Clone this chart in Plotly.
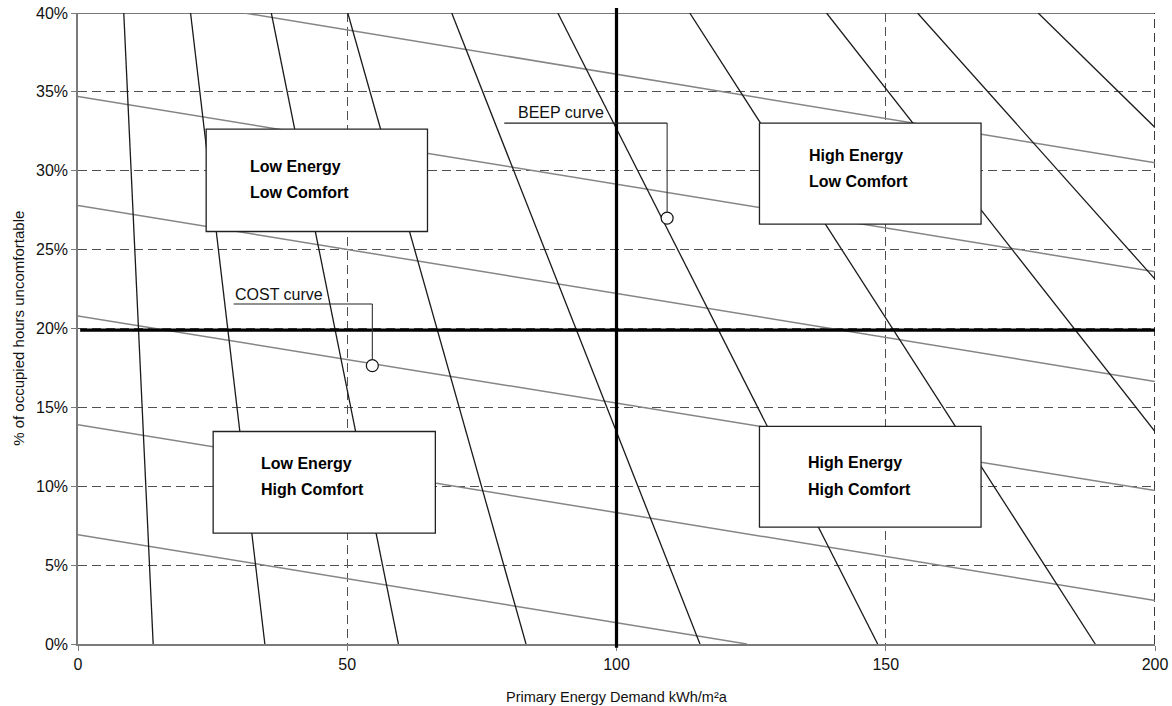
import plotly.graph_objects as go

# ---- data ----
# COST curves (grey, gentle slope): start/end points
cost_x0 = [0, 0, 0, 0, 0, 30.9]
cost_y0 = [6.93, 13.9, 20.8, 27.8, 34.7, 40.0]
cost_x1 = [124.2, 200, 200, 200, 200, 200]
cost_y1 = [0.0, 2.76, 9.73, 16.64, 23.6, 30.5]

# BEEP curves (dark, steep): start/end points
beep_x0 = [8.5, 20.9, 35.9, 50.1, 69.4, 89.1, 113.6, 139.0, 155.9, 178.3]
beep_y0 = [40, 40, 40, 40, 40, 40, 40, 40, 40, 40]
beep_x1 = [13.96, 34.7, 59.5, 83.2, 115.5, 148.5, 188.9, 200, 200, 200]
beep_y1 = [0, 0, 0, 0, 0, 0, 0, 13.47, 23.13, 32.74]

# thresholds (thick black lines)
energy_threshold = 100
comfort_threshold = 19.9

# callout points
callout_names = ["BEEP curve", "COST curve"]
callout_pt_x = [109.4, 54.66]
callout_pt_y = [27.0, 17.65]
callout_elbow_x = [79.16, 28.9]
callout_elbow_y = [33.02, 21.55]
callout_text_x = [81.5, 29.05]
callout_text_y = [33.67, 22.14]

# quadrant boxes
box_x0 = [23.8, 126.55, 25.1, 126.55]
box_x1 = [64.9, 167.7, 66.36, 167.7]
box_y0 = [26.15, 26.62, 7.03, 7.41]
box_y1 = [32.64, 33.02, 13.47, 13.79]
box_line1 = ["Low Energy", "High Energy", "Low Energy", "High Energy"]
box_line2 = ["Low Comfort", "Low Comfort", "High Comfort", "High Comfort"]
box_text_x = [31.7, 135.65, 33.74, 135.46]
box_text_y1 = [30.25, 30.99, 11.47, 11.49]
box_text_y2 = [28.65, 29.3, 9.82, 9.8]

x_ticks = [0, 50, 100, 150, 200]
y_ticks = [0, 5, 10, 15, 20, 25, 30, 35, 40]

SANS = "Liberation Sans, Arial, sans-serif"

fig = go.Figure()

for i in range(len(cost_x0)):
    fig.add_trace(go.Scatter(x=[cost_x0[i], cost_x1[i]], y=[cost_y0[i], cost_y1[i]],
                             mode="lines", line=dict(color="#858585", width=1.5),
                             hoverinfo="skip", showlegend=False))
for i in range(len(beep_x0)):
    fig.add_trace(go.Scatter(x=[beep_x0[i], beep_x1[i]], y=[beep_y0[i], beep_y1[i]],
                             mode="lines", line=dict(color="#1a1a1a", width=1.3),
                             hoverinfo="skip", showlegend=False))

shapes = []
# frame edges (top solid, right dashed)
shapes.append(dict(type="line", xref="x", yref="y", x0=0, x1=200, y0=40, y1=40,
                   line=dict(color="#4a4a4a", width=1.3), layer="below"))
shapes.append(dict(type="line", xref="x", yref="y", x0=200, x1=200, y0=0, y1=40,
                   line=dict(color="#3a3a3a", width=2, dash="9px,5px"), layer="below"))
# thick threshold lines
shapes.append(dict(type="line", xref="x", yref="paper", x0=energy_threshold, x1=energy_threshold,
                   y0=-0.006, y1=1.008, line=dict(color="black", width=3.2), layer="above"))
shapes.append(dict(type="line", xref="x", yref="y", x0=0.4, x1=200, y0=comfort_threshold,
                   y1=comfort_threshold, line=dict(color="black", width=3.2), layer="above"))
# boxes
for i in range(len(box_x0)):
    shapes.append(dict(type="rect", xref="x", yref="y", x0=box_x0[i], x1=box_x1[i],
                       y0=box_y0[i], y1=box_y1[i], fillcolor="white",
                       line=dict(color="#222", width=1.3), layer="above"))
# callout leader lines
for i in range(len(callout_names)):
    shapes.append(dict(type="line", xref="x", yref="y", x0=callout_elbow_x[i], x1=callout_pt_x[i],
                       y0=callout_elbow_y[i], y1=callout_elbow_y[i],
                       line=dict(color="#222", width=1.1), layer="above"))
    shapes.append(dict(type="line", xref="x", yref="y", x0=callout_pt_x[i], x1=callout_pt_x[i],
                       y0=callout_elbow_y[i], y1=callout_pt_y[i] + 0.38,
                       line=dict(color="#333", width=1.1), layer="above"))

fig.add_trace(go.Scatter(x=callout_pt_x, y=callout_pt_y, mode="markers",
                         marker=dict(size=12, color="white", line=dict(color="#111", width=1.2)),
                         hoverinfo="skip", showlegend=False))

annotations = []
for i in range(len(box_line1)):
    annotations.append(dict(x=box_text_x[i], y=box_text_y1[i], xref="x", yref="y",
                            text="<b>" + box_line1[i] + "</b>", showarrow=False,
                            xanchor="left", yanchor="middle",
                            font=dict(family=SANS, size=16, color="black"), borderpad=0))
    annotations.append(dict(x=box_text_x[i], y=box_text_y2[i], xref="x", yref="y",
                            text="<b>" + box_line2[i] + "</b>", showarrow=False,
                            xanchor="left", yanchor="middle",
                            font=dict(family=SANS, size=16, color="black"), borderpad=0))
for i in range(len(callout_names)):
    annotations.append(dict(x=callout_text_x[i], y=callout_text_y[i], xref="x", yref="y",
                            text=callout_names[i], showarrow=False, xanchor="left", yanchor="middle",
                            font=dict(family=SANS, size=16, color="#111"), borderpad=0))
# axis titles
annotations.append(dict(x=0.5, y=-0.0835, xref="paper", yref="paper",
                        text="Primary Energy Demand kWh/m²a", showarrow=False,
                        xanchor="center", yanchor="middle",
                        font=dict(family=SANS, size=14.5, color="#111")))
annotations.append(dict(x=-0.0554, y=0.5, xref="paper", yref="paper",
                        text="% of occupied hours uncomfortable", showarrow=False, textangle=-90,
                        xanchor="center", yanchor="middle",
                        font=dict(family=SANS, size=15, color="#111")))

fig.update_layout(
    width=1172, height=706,
    margin=dict(l=78, r=17, t=13, b=62, autoexpand=False),
    paper_bgcolor="white", plot_bgcolor="white",
    shapes=shapes, annotations=annotations,
    showlegend=False,
    xaxis=dict(range=[0, 200], tickvals=x_ticks, ticktext=[str(v) for v in x_ticks],
               showgrid=True, gridcolor="#505050", gridwidth=1, griddash="9px,5px",
               zeroline=False, showline=True, linecolor="#7a7a7a", linewidth=1.5,
               ticks="outside", ticklen=5, tickcolor="#7a7a7a", tickwidth=1.2,
               automargin=False,
               tickfont=dict(family=SANS, size=16, color="#111")),
    yaxis=dict(range=[0, 40], tickvals=y_ticks, ticktext=[f"{v}%" for v in y_ticks],
               showgrid=True, gridcolor="#505050", gridwidth=1, griddash="9px,5px",
               zeroline=False, showline=True, linecolor="#7a7a7a", linewidth=1.5,
               ticks="outside", ticklen=5, tickcolor="#7a7a7a", tickwidth=1.2,
               automargin=False,
               tickfont=dict(family=SANS, size=16, color="#111")),
)

fig.write_html("out.html", config={"displayModeBar": False},
               post_script="document.body.style.margin='0';")
